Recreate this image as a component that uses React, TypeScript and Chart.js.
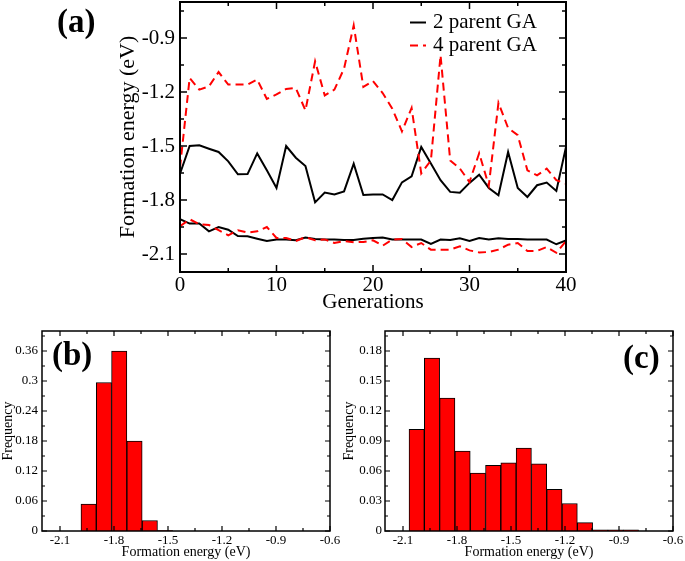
import React, { useEffect, useRef } from "react";
import { Chart, registerables } from "chart.js";

Chart.register(...registerables);

const FONT = "'Liberation Serif', 'Times New Roman', Times, serif";

// ---------- Panel (a) data ----------
const generations = [
  0, 1, 2, 3, 4, 5, 6, 7, 8, 9, 10, 11, 12, 13, 14, 15, 16, 17, 18, 19, 20,
  21, 22, 23, 24, 25, 26, 27, 28, 29, 30, 31, 32, 33, 34, 35, 36, 37, 38, 39, 40,
];
const avg2Parent = [
  -1.654, -1.5, -1.496, -1.515, -1.533, -1.585, -1.657, -1.656, -1.541, -1.635,
  -1.733, -1.5, -1.565, -1.611, -1.813, -1.759, -1.769, -1.752, -1.598, -1.772,
  -1.769, -1.769, -1.8, -1.702, -1.669, -1.505, -1.597, -1.69, -1.755, -1.76,
  -1.705, -1.659, -1.733, -1.774, -1.533, -1.733, -1.783, -1.718, -1.703, -1.75,
  -1.505,
];
const avg4Parent = [
  -1.62, -1.122, -1.187, -1.169, -1.089, -1.159, -1.159, -1.159, -1.131, -1.239,
  -1.213, -1.183, -1.178, -1.302, -1.03, -1.219, -1.187, -1.07, -0.83, -1.172,
  -1.139, -1.206, -1.293, -1.419, -1.289, -1.652, -1.58, -0.996, -1.58, -1.625,
  -1.7, -1.54, -1.72, -1.26, -1.4, -1.44, -1.635, -1.663, -1.626, -1.69, -1.71,
];
const best2Parent = [
  -1.907, -1.931, -1.931, -1.974, -1.95, -1.965, -2.0, -2.002, -2.015, -2.028,
  -2.019, -2.019, -2.024, -2.009, -2.017, -2.019, -2.02, -2.022, -2.022, -2.015,
  -2.011, -2.009, -2.019, -2.019, -2.02, -2.02, -2.044, -2.02, -2.022, -2.013,
  -2.028, -2.011, -2.02, -2.013, -2.017, -2.017, -2.019, -2.02, -2.02, -2.046,
  -2.024,
];
const best4Parent = [
  -1.946, -1.907, -1.935, -1.939, -1.968, -1.996, -1.968, -1.981, -1.974, -1.95,
  -2.011, -2.011, -2.028, -2.006, -2.024, -2.019, -2.039, -2.028, -2.035, -2.033,
  -2.024, -2.054, -2.02, -2.017, -2.061, -2.039, -2.076, -2.076, -2.076, -2.057,
  -2.08, -2.091, -2.089, -2.076, -2.048, -2.039, -2.083, -2.083, -2.061, -2.093,
  -2.028,
];
const legendLabels = ["2 parent GA", "4 parent GA"];
const genTicks = [0, 10, 20, 30, 40];
const genMinorTicks = [5, 15, 25, 35];
const energyTicksA = [-2.1, -1.8, -1.5, -1.2, -0.9];
const energyMinorTicksA = [-1.95, -1.65, -1.35, -1.05, -0.75];

// ---------- Panel (b) data ----------
const binCentersB = [-1.941, -1.856, -1.771, -1.686, -1.601, -1.516];
const freqB = [0.054, 0.297, 0.36, 0.18, 0.021, 0.0008];
const freqTicksB = [0, 0.06, 0.12, 0.18, 0.24, 0.3, 0.36];
const freqMinorTicksB = [0.03, 0.09, 0.15, 0.21, 0.27, 0.33, 0.39];

// ---------- Panel (c) data ----------
const binCentersC = [
  -2.024, -1.939, -1.854, -1.769, -1.684, -1.599, -1.514, -1.429, -1.344,
  -1.259, -1.174, -1.089, -1.004, -0.919, -0.834,
];
const freqC = [
  0.1017, 0.173, 0.1328, 0.0798, 0.058, 0.0656, 0.0682, 0.0828, 0.0672,
  0.0417, 0.0275, 0.0083, 0.0012, 0.0012, 0.0012,
];
const freqTicksC = [0, 0.03, 0.06, 0.09, 0.12, 0.15, 0.18];
const freqMinorTicksC = [0.015, 0.045, 0.075, 0.105, 0.135, 0.165, 0.195];

const energyTicksH = [-2.1, -1.8, -1.5, -1.2, -0.9, -0.6];
const energyMinorTicksH = [-1.95, -1.65, -1.35, -1.05, -0.75];

// ---------- plugin: frame, inward ticks, panel label, legend ----------
const frameTicksPlugin = {
  id: "frameTicks",
  afterDraw(chart: any, _args: any, opts: any) {
    const { ctx, chartArea: a, scales } = chart;
    const xs = scales.x;
    const ys = scales.y;
    ctx.save();
    ctx.strokeStyle = "#000";
    ctx.lineWidth = opts.tickWidth;
    const drawX = (vals: number[], len: number) => {
      vals.forEach((v) => {
        const p = xs.getPixelForValue(v);
        ctx.beginPath();
        ctx.moveTo(p, a.bottom);
        ctx.lineTo(p, a.bottom - len);
        ctx.moveTo(p, a.top);
        ctx.lineTo(p, a.top + len);
        ctx.stroke();
      });
    };
    const drawY = (vals: number[], len: number) => {
      vals.forEach((v) => {
        const p = ys.getPixelForValue(v);
        ctx.beginPath();
        ctx.moveTo(a.left, p);
        ctx.lineTo(a.left + len, p);
        ctx.moveTo(a.right, p);
        ctx.lineTo(a.right - len, p);
        ctx.stroke();
      });
    };
    drawX(opts.xMajor, opts.majorLen);
    drawX(opts.xMinor, opts.minorLen);
    drawY(opts.yMajor, opts.majorLen);
    drawY(opts.yMinor, opts.minorLen);
    ctx.lineWidth = opts.frameWidth;
    ctx.strokeRect(a.left, a.top, a.right - a.left, a.bottom - a.top);

    ctx.fillStyle = "#000";
    ctx.textBaseline = "middle";
    ctx.textAlign = "left";
    ctx.font = `bold ${opts.labelSize}px ${FONT}`;
    ctx.fillText(opts.label, opts.labelX, opts.labelY);

    if (opts.legend) {
      const L = opts.legend;
      ctx.font = `${L.size}px ${FONT}`;
      L.items.forEach((it: any) => {
        ctx.beginPath();
        ctx.strokeStyle = it.color;
        ctx.lineWidth = 2;
        ctx.setLineDash(it.dash);
        ctx.moveTo(L.x0, it.y);
        ctx.lineTo(L.x1, it.y);
        ctx.stroke();
        ctx.setLineDash([]);
        ctx.fillStyle = "#000";
        ctx.fillText(it.text, L.textX, it.ty);
      });
    }
    ctx.restore();
  },
};

const RED = "#ff0000";

function configA(): any {
  const pts = (vals: number[]) => generations.map((g, i) => ({ x: g, y: vals[i] }));
  const lineDs = (vals: number[], color: string, dash: number[], label: string) => ({
    label,
    data: pts(vals),
    borderColor: color,
    borderWidth: 2,
    borderDash: dash,
    pointRadius: 0,
    fill: false,
    tension: 0,
  });
  return {
    type: "line",
    data: {
      datasets: [
        lineDs(avg4Parent, RED, [8, 5], legendLabels[1]),
        lineDs(best4Parent, RED, [8, 5], legendLabels[1]),
        lineDs(avg2Parent, "#000", [], legendLabels[0]),
        lineDs(best2Parent, "#000", [], legendLabels[0]),
      ],
    },
    options: {
      responsive: false,
      animation: false,
      devicePixelRatio: 1,
      layout: { padding: { left: 0, top: 2, right: 119, bottom: 0 } },
      plugins: {
        legend: { display: false },
        tooltip: { enabled: false },
        frameTicks: {
          xMajor: genTicks,
          xMinor: genMinorTicks,
          yMajor: energyTicksA,
          yMinor: energyMinorTicksA,
          majorLen: 7,
          minorLen: 4,
          tickWidth: 1.5,
          frameWidth: 2,
          label: "(a)",
          labelSize: 33,
          labelX: 57,
          labelY: 23,
          legend: {
            size: 21,
            x0: 410,
            x1: 426,
            textX: 433,
            items: [
              { text: legendLabels[0], color: "#000", dash: [], y: 22.5, ty: 22 },
              { text: legendLabels[1], color: RED, dash: [8, 5], y: 45.5, ty: 45 },
            ],
          },
        },
      },
      scales: {
        x: {
          type: "linear",
          min: 0,
          max: 40,
          offset: false,
          grid: { display: false, drawTicks: false },
          border: { display: false },
          afterBuildTicks: (s: any) => {
            s.ticks = genTicks.map((v) => ({ value: v }));
          },
          afterFit: (s: any) => {
            s.height = 48;
            s.paddingLeft = 0;
            s.paddingRight = 0;
          },
          ticks: {
            color: "#000",
            padding: 3,
            maxRotation: 0,
            minRotation: 0,
            autoSkip: false,
            font: { family: FONT, size: 21, lineHeight: 1 },
            callback: (v: any) => String(v),
          },
          title: {
            display: true,
            text: "Generations",
            color: "#000",
            font: { family: FONT, size: 21, lineHeight: 1 },
            padding: { top: 0, bottom: 7 },
          },
        },
        y: {
          type: "linear",
          min: -2.2,
          max: -0.7,
          grid: { display: false, drawTicks: false },
          border: { display: false },
          afterBuildTicks: (s: any) => {
            s.ticks = energyTicksA.map((v) => ({ value: v }));
          },
          afterFit: (s: any) => {
            s.width = 180;
            s.paddingTop = 0;
            s.paddingBottom = 0;
          },
          ticks: {
            color: "#000",
            padding: 5,
            autoSkip: false,
            font: { family: FONT, size: 21, lineHeight: 1 },
            callback: (v: any) => Number(v).toFixed(1),
          },
          title: {
            display: true,
            text: "Formation energy (eV)",
            color: "#000",
            font: { family: FONT, size: 22, lineHeight: 1 },
            padding: { top: 117, bottom: 0 },
          },
        },
      },
    },
  };
}

function configHist(
  centers: number[],
  freqs: number[],
  yMax: number,
  yTicks: number[],
  yMinor: number[],
  p: { yWidth: number; right: number; label: string; labelX: number; labelY: number; tickPad: number; titlePad: number }
): any {
  return {
    type: "bar",
    data: {
      datasets: [
        {
          data: centers.map((c, i) => ({ x: c, y: freqs[i] })),
          backgroundColor: RED,
          borderColor: "#000",
          borderWidth: 1,
          barPercentage: 1,
          categoryPercentage: 1,
        },
      ],
    },
    options: {
      responsive: false,
      animation: false,
      devicePixelRatio: 1,
      layout: { padding: { left: 0, top: 11, right: p.right, bottom: 0 } },
      plugins: {
        legend: { display: false },
        tooltip: { enabled: false },
        frameTicks: {
          xMajor: energyTicksH,
          xMinor: energyMinorTicksH,
          yMajor: yTicks,
          yMinor: yMinor,
          majorLen: 5,
          minorLen: 3,
          tickWidth: 1.2,
          frameWidth: 1.5,
          label: p.label,
          labelSize: 33,
          labelX: p.labelX,
          labelY: p.labelY,
        },
      },
      scales: {
        x: {
          type: "linear",
          min: -2.2,
          max: -0.6,
          offset: false,
          grid: { display: false, drawTicks: false },
          border: { display: false },
          afterBuildTicks: (s: any) => {
            s.ticks = energyTicksH.map((v) => ({ value: v }));
          },
          afterFit: (s: any) => {
            s.height = 30;
            s.paddingLeft = 0;
            s.paddingRight = 0;
          },
          ticks: {
            color: "#000",
            padding: 3,
            maxRotation: 0,
            minRotation: 0,
            autoSkip: false,
            font: { family: FONT, size: 13, lineHeight: 1 },
            callback: (v: any) => Number(v).toFixed(1),
          },
          title: {
            display: true,
            text: "Formation energy (eV)",
            color: "#000",
            font: { family: FONT, size: 14, lineHeight: 1 },
            padding: { top: 0, bottom: 2 },
          },
        },
        y: {
          type: "linear",
          min: 0,
          max: yMax,
          grid: { display: false, drawTicks: false },
          border: { display: false },
          afterBuildTicks: (s: any) => {
            s.ticks = yTicks.map((v) => ({ value: v }));
          },
          afterFit: (s: any) => {
            s.width = p.yWidth;
            s.paddingTop = 0;
            s.paddingBottom = 0;
          },
          ticks: {
            color: "#000",
            padding: p.tickPad,
            autoSkip: false,
            font: { family: FONT, size: 13, lineHeight: 1 },
            callback: (v: any) => String(Number(Number(v).toFixed(3))),
          },
          title: {
            display: true,
            text: "Frequency",
            color: "#000",
            font: { family: FONT, size: 14, lineHeight: 1 },
            padding: { top: p.titlePad, bottom: 0 },
          },
        },
      },
    },
  };
}

export default function App() {
  const refA = useRef<HTMLCanvasElement>(null);
  const refB = useRef<HTMLCanvasElement>(null);
  const refC = useRef<HTMLCanvasElement>(null);

  useEffect(() => {
    const charts = [
      new Chart(refA.current as HTMLCanvasElement, { ...configA(), plugins: [frameTicksPlugin] }),
      new Chart(refB.current as HTMLCanvasElement, {
        ...configHist(binCentersB, freqB, 0.4, freqTicksB, freqMinorTicksB, {
          yWidth: 42,
          right: 12,
          label: "(b)",
          labelX: 52,
          labelY: 36,
          tickPad: 4,
          titlePad: 1,
        }),
        plugins: [frameTicksPlugin],
      }),
      new Chart(refC.current as HTMLCanvasElement, {
        ...configHist(binCentersC, freqC, 0.2, freqTicksC, freqMinorTicksC, {
          yWidth: 43,
          right: 12,
          label: "(c)",
          labelX: 281,
          labelY: 39,
          tickPad: 3,
          titlePad: 0,
        }),
        plugins: [frameTicksPlugin],
      }),
    ];
    return () => charts.forEach((c) => c.destroy());
  }, []);

  return (
    <div
      style={{
        position: "fixed",
        left: 0,
        top: 0,
        width: 685,
        height: 561,
        background: "#fff",
        overflow: "hidden",
      }}
    >
      <canvas
        ref={refA}
        width={685}
        height={320}
        style={{ position: "absolute", left: 0, top: 0, width: 685, height: 320 }}
      />
      <canvas
        ref={refB}
        width={342}
        height={241}
        style={{ position: "absolute", left: 0, top: 320, width: 342, height: 241 }}
      />
      <canvas
        ref={refC}
        width={343}
        height={241}
        style={{ position: "absolute", left: 342, top: 320, width: 343, height: 241 }}
      />
    </div>
  );
}
